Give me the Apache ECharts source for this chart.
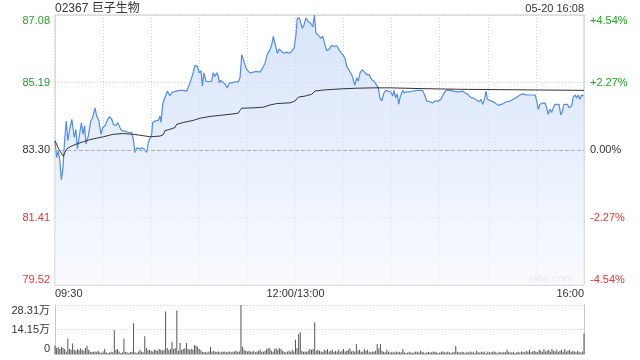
<!DOCTYPE html>
<html><head><meta charset="utf-8">
<script src="https://cdn.jsdelivr.net/npm/echarts@6/dist/echarts.min.js"></script>
<style>html,body{margin:0;padding:0;background:#fff}#c{width:640px;height:360px}</style>
</head><body><div id="c"></div>
<script>
const stockTitle = '02367 巨子生物';
const stampText = '05-20 16:08';
const xTickLabels = {0: '09:30', 150: '12:00/13:00', 330: '16:00'};
const priceTicks = [79.52, 81.41, 83.30, 85.19, 87.08];
const pctTicks = [-4.54, -2.27, 0, 2.27, 4.54];
const volTickLabels = ['0', '14.15万', '28.31万'];
const volMax = 28.31;
const prevClose = 83.30;

// minutes since 09:30 (lunch break removed)
const priceTimes = [
0,1,2,3,4,5,6,7,8,9,
10.5,12,13,14,15,16.5,17.5,18.5,19.3,20.8,
22.3,23.5,25,26,27.4,28.7,29.8,31.2,32.6,33.9,
35.4,36.4,37.9,39.1,40.5,41.6,42.6,44.3,45.7,47.8,
48.8,49.9,51,52.6,54.1,55.5,56.6,57.2,58.2,59.3,
60.3,60.9,62.4,63.4,64.4,65.5,66.1,67.2,68.2,69.2,
70.1,70.9,71.7,72.8,74.2,75.9,78,80,82.2,83.2,
84.2,85.9,87.3,88.8,90,91.1,91.9,92.9,94.2,95.6,
97.7,98.7,99.8,100.9,101.9,102.5,103.4,104.6,106,107.5,
108.7,110.2,112.3,114.3,115.4,116.5,117.5,118.5,119.6,120.6,
121.6,123.7,125.8,126.8,127.9,129.6,131,132.4,134.1,135.2,
136.2,137.2,138.7,139.9,141.4,142.9,144.5,146.2,147.6,149.1,
150.3,151.1,152.4,153.5,154.3,155.3,156.6,158,159.5,160.8,
161.8,162.8,164.2,165.7,167,168.4,169.5,171.1,172.6,174,
175.7,176.7,177.8,179.5,180.9,182,183.6,185.1,186.1,187,
188.2,189.2,190.3,191.7,192.9,194.4,195.9,197.6,199,200.2,
201.7,202.7,203.8,205.2,206.5,207.9,209.4,210.7,211.5,212.5,
213.5,214.4,215.2,216,216.9,217.7,219,220.2,221.5,222.5,
225.6,229.4,230.8,231.9,233.9,235.6,237,239.1,240.8,242.2,
243.9,246.4,248.5,250.6,252.6,254.3,255.8,257.2,258.4,259.9,
261.4,263.1,264.7,265.7,266.8,267.8,268.9,269.7,270.9,272.4,
273.4,274.5,275.5,276.5,277.6,279.6,281.7,283.8,285.9,288,
290.1,292.1,294.2,296.3,299.6,300.5,301.5,302.5,304,305.7,
306.7,307.7,308.8,309.8,310.8,311.9,312.9,314.4,315.5,316.5,
317.5,318.6,319.6,320.8,322.3,323.3,324.4,325.4,326.4,327.5,
328.5,330];
const prices = [
83.56,83.09,83.28,83.00,82.47,82.82,83.56,84.11,83.56,83.84,
84.16,83.65,83.88,83.33,83.65,84.07,83.74,83.98,83.47,83.70,
84.11,84.21,84.48,84.25,84.11,83.74,83.93,83.98,84.13,84.23,
84.16,84.02,83.98,84.07,83.93,83.84,83.79,83.82,83.79,83.79,
83.61,83.23,83.36,83.33,83.36,83.33,83.36,83.23,83.51,83.63,
83.74,84.07,84.11,84.07,84.13,84.25,84.07,84.58,84.72,84.67,
84.95,84.97,84.81,84.90,84.93,84.95,84.97,84.97,84.95,85.00,
85.18,85.41,85.67,85.64,85.46,85.52,85.09,85.46,85.23,85.21,
85.23,85.46,85.36,85.46,85.36,85.18,85.25,85.23,85.15,85.04,
85.18,85.18,85.21,85.21,85.32,85.97,85.83,85.69,85.55,85.52,
85.46,85.48,85.50,85.55,85.48,85.60,85.73,85.97,86.11,86.25,
86.48,86.29,86.01,86.13,86.06,86.01,86.04,86.01,86.06,86.15,
86.52,86.98,87.00,86.98,86.71,86.80,87.00,86.89,86.85,86.75,
87.08,86.57,86.52,86.43,86.48,86.25,86.08,86.13,86.23,86.20,
86.22,86.15,86.06,85.97,85.87,85.64,85.52,85.41,85.27,85.11,
85.32,85.23,85.46,85.55,85.50,85.41,85.41,85.27,85.23,85.18,
85.04,84.76,84.67,84.90,84.97,84.95,84.93,84.81,84.97,84.76,
84.87,84.58,84.76,84.86,84.97,84.90,84.93,84.90,84.93,84.97,
84.97,84.97,84.81,84.67,84.65,84.62,84.67,84.67,84.72,84.86,
84.97,84.97,84.95,84.93,84.93,84.95,84.90,84.87,84.81,84.76,
84.75,84.69,84.65,84.72,84.58,84.69,84.95,84.72,84.67,84.67,
84.65,84.62,84.58,84.55,84.53,84.60,84.65,84.67,84.72,84.78,
84.84,84.87,84.84,84.84,84.84,84.67,84.44,84.58,84.61,84.62,
84.48,84.30,84.44,84.35,84.48,84.58,84.61,84.58,84.28,84.39,
84.58,84.62,84.58,84.48,84.53,84.78,84.84,84.76,84.84,84.72,
84.84,84.81];

const avgTimes = [0,2,4.2,5.2,6.2,7.3,9.4,13.5,17.7,21.6,
26,30.1,36.4,42.6,48.8,55.1,59.3,65.5,67.6,68.6,
71.7,74.9,75.9,80,86.3,90.5,96.7,102.9,109.2,114.3,
115.4,116.5,123.7,130,134.1,138.3,146.6,149.7,151.8,156,
160.1,162.2,167.4,177.8,188.2,198.6,209,227.7,252.6,277.6,
302.5,330];
const avgPrices = [83.56,83.36,83.19,83.12,83.23,83.33,83.39,83.47,83.53,83.59,
83.63,83.67,83.74,83.76,83.74,83.70,83.67,83.69,83.73,83.84,
83.88,83.93,84.02,84.07,84.13,84.19,84.24,84.27,84.30,84.33,
84.41,84.47,84.48,84.50,84.56,84.60,84.62,84.67,84.78,84.81,
84.86,84.95,84.98,85.01,85.03,85.04,85.04,85.02,85.00,84.99,
84.98,84.97];

// volume per minute (万股), index = minute since 09:30
const volumes = [
4.8,3.4,4.0,2.9,4.0,3.4,2.9,1.5,8.9,2.9,
2.5,6.0,2.5,1.9,2.9,2.1,3.3,2.5,1.9,3.4,
4.6,2.5,1.5,1.1,1.3,1.5,1.3,1.9,1.0,0.6,
1.5,2.9,1.0,0.6,0.9,1.3,1.0,13.7,2.5,2.9,
1.5,0.6,1.0,8.9,1.3,1.0,0.6,1.2,1.3,17.7,
1.0,0.6,1.3,2.5,1.5,1.0,10.2,3.4,2.1,2.5,
1.9,1.5,2.5,2.1,1.9,2.9,2.5,1.9,2.5,24.6,
3.4,2.1,2.9,7.1,2.9,3.3,25.2,1.9,6.4,2.5,
2.9,3.3,6.4,2.9,2.5,3.1,2.5,5.2,4.8,4.2,
2.9,2.1,1.3,1.0,1.3,0.9,1.5,4.2,1.5,1.9,
1.3,1.3,1.5,0.9,1.3,1.3,1.5,1.0,1.3,1.5,
1.0,1.3,1.5,1.9,1.3,1.5,28.31,4.2,2.5,1.9,
1.5,1.9,1.5,1.3,1.9,1.0,1.5,1.9,2.5,1.3,
1.5,1.9,2.9,3.3,3.3,1.9,1.3,2.9,3.3,2.5,
3.3,2.9,1.9,1.3,1.0,1.5,1.9,1.3,2.5,1.5,
8.3,3.5,11.5,12.5,1.9,1.3,1.5,1.3,1.9,2.9,
2.5,2.9,18.3,1.9,2.5,1.9,1.5,1.3,2.5,1.9,
2.9,1.5,1.9,2.5,1.3,1.9,1.5,2.5,1.3,1.9,
2.9,1.5,1.9,2.5,3.3,1.5,1.9,1.3,5.8,1.9,
2.5,1.3,1.5,2.9,1.9,2.5,1.3,1.0,1.5,1.3,
1.9,5.8,3.3,5.8,1.9,1.3,1.0,2.5,1.3,0.9,
1.0,1.3,0.9,1.5,1.0,1.3,1.0,2.9,1.0,0.6,
0.9,1.3,1.0,0.6,1.0,1.5,1.3,0.9,1.9,1.3,
1.0,0.6,1.0,1.3,0.9,1.0,1.5,1.3,1.0,0.6,
0.9,1.3,1.5,1.0,0.9,1.3,1.0,0.6,1.0,1.3,
4.6,1.3,1.0,0.9,1.3,1.0,0.6,1.3,0.9,1.5,
1.0,1.3,0.6,1.9,1.0,0.9,1.3,1.0,1.5,0.6,
1.3,1.0,0.9,1.3,1.5,1.0,0.6,1.3,1.0,0.9,
1.3,1.0,2.5,1.3,0.9,1.0,1.3,0.6,1.0,1.3,
0.9,1.5,1.3,1.0,1.9,1.3,2.5,1.0,1.5,1.9,
1.3,1.0,2.5,1.9,1.3,2.9,1.5,1.9,2.5,1.3,
2.9,1.9,1.5,2.5,1.3,1.9,2.5,1.3,2.9,1.5,
1.9,2.5,1.3,1.9,1.5,1.0,1.9,1.3,0.9,1.5,
11.9];

const FONT = '"Liberation Sans", Arial, "Noto Sans CJK SC", sans-serif';
const GREEN = '#22a322', RED = '#ee3333', DARK = '#333';
const GRIDC = '#c8c8c8';

const priceData = priceTimes.map((t, i) => [t, prices[i]]);
const avgData = avgTimes.map((t, i) => [t, avgPrices[i]]);
const volData = volumes.map((v, i) => [i, v]);

const chart = echarts.init(document.getElementById('c'), null, {renderer: 'canvas'});
chart.setOption({
  animation: false,
  textStyle: {fontFamily: FONT},
  title: [
    {text: stockTitle, left: 50, top: -2, textStyle: {fontSize: 12, fontWeight: 'normal', color: DARK, fontFamily: FONT}},
    {text: stampText, right: 51, top: -2, textStyle: {fontSize: 11, fontWeight: 'normal', color: DARK, fontFamily: FONT}}
  ],
  graphic: [{type: 'text', right: 67, top: 273, z: 1,
    style: {text: 'sina.com', fill: '#c8c8c8', font: '11px ' + FONT}}],
  grid: [
    {left: 55, right: 56, top: 15, height: 270, show: true, borderColor: GRIDC, borderWidth: 1},
    {left: 55, right: 56, top: 305, height: 49, show: false}
  ],
  xAxis: [
    {type: 'value', gridIndex: 0, min: 0, max: 330, interval: 30,
      axisLine: {show: false}, axisTick: {show: false},
      splitLine: {show: true, lineStyle: {color: '#cfcfcf', type: [1, 2]}},
      axisLabel: {show: true, margin: 3, fontSize: 11, color: DARK, fontFamily: FONT,
        alignMinLabel: 'left', alignMaxLabel: 'right', showMinLabel: true, showMaxLabel: true,
        formatter: v => xTickLabels[Math.round(v)] || ''}},
    {type: 'value', gridIndex: 1, min: 0, max: 330, interval: 30,
      axisLine: {show: true, lineStyle: {color: GRIDC}}, axisTick: {show: false},
      splitLine: {show: false}, axisLabel: {show: false}}
  ],
  yAxis: [
    {type: 'value', gridIndex: 0, position: 'left', min: priceTicks[0], max: priceTicks[4],
      interval: priceTicks[1] - priceTicks[0],
      axisLine: {show: false}, axisTick: {show: false},
      splitLine: {show: true, lineStyle: {color: '#cfcfcf', type: [1, 2]}},
      axisLabel: {margin: 5, fontSize: 11, fontFamily: FONT,
        verticalAlignMinLabel: 'bottom', verticalAlignMaxLabel: 'top',
        formatter: v => {
          const s = v.toFixed(2);
          if (Math.abs(v - prevClose) < 0.005) return '{k|' + s + '}';
          return (v > prevClose ? '{g|' : '{r|') + s + '}';
        },
        rich: {g: {color: GREEN, fontSize: 11, fontFamily: FONT}, r: {color: RED, fontSize: 11, fontFamily: FONT}, k: {color: DARK, fontSize: 11, fontFamily: FONT}}}},
    {type: 'value', gridIndex: 0, position: 'right', min: pctTicks[0], max: pctTicks[4],
      interval: pctTicks[3] - pctTicks[2],
      axisLine: {show: false}, axisTick: {show: false}, splitLine: {show: false},
      axisLabel: {margin: 6, fontSize: 11, fontFamily: FONT,
        verticalAlignMinLabel: 'bottom', verticalAlignMaxLabel: 'top',
        formatter: v => {
          if (Math.abs(v) < 0.001) return '{k|0.00%}';
          return v > 0 ? '{g|+' + v.toFixed(2) + '%}' : '{r|' + v.toFixed(2) + '%}';
        },
        rich: {g: {color: GREEN, fontSize: 11, fontFamily: FONT}, r: {color: RED, fontSize: 11, fontFamily: FONT}, k: {color: DARK, fontSize: 11, fontFamily: FONT}}}},
    {type: 'value', gridIndex: 1, position: 'left', min: 0, max: volMax, interval: volMax / 2,
      axisLine: {show: true, lineStyle: {color: GRIDC}}, axisTick: {show: false},
      splitLine: {show: true, lineStyle: {color: '#cfcfcf', type: [1, 2]}},
      axisLabel: {margin: 5, fontSize: 11, color: DARK, fontFamily: FONT,
        verticalAlignMinLabel: 'bottom', verticalAlignMaxLabel: 'top',
        formatter: (v, i) => volTickLabels[i]}},
    {type: 'value', gridIndex: 1, position: 'right', min: 0, max: volMax, interval: volMax / 2,
      axisLine: {show: true, lineStyle: {color: GRIDC}}, axisTick: {show: false},
      splitLine: {show: false}, axisLabel: {show: false}}
  ],
  series: [
    {type: 'line', xAxisIndex: 0, yAxisIndex: 0, data: priceData, showSymbol: false, symbol: 'none',
      lineStyle: {color: '#4f8cf0', width: 1.2}, z: 3,
      areaStyle: {origin: 'start', color: new echarts.graphic.LinearGradient(0, 0, 0, 1, [
        {offset: 0, color: '#c6d8f7'}, {offset: 1, color: '#f5f8fe'}])},
      markLine: {silent: true, symbol: 'none', label: {show: false},
        lineStyle: {color: '#b0b0b0', type: [4, 2], width: 1},
        data: [{yAxis: prevClose}]}},
    {type: 'line', xAxisIndex: 0, yAxisIndex: 0, data: avgData, showSymbol: false, symbol: 'none',
      lineStyle: {color: '#333', width: 1}, z: 4},
    {type: 'bar', xAxisIndex: 1, yAxisIndex: 2, data: volData, barWidth: 1,
      itemStyle: {color: '#555'}}
  ]
});
</script>
</body></html>
